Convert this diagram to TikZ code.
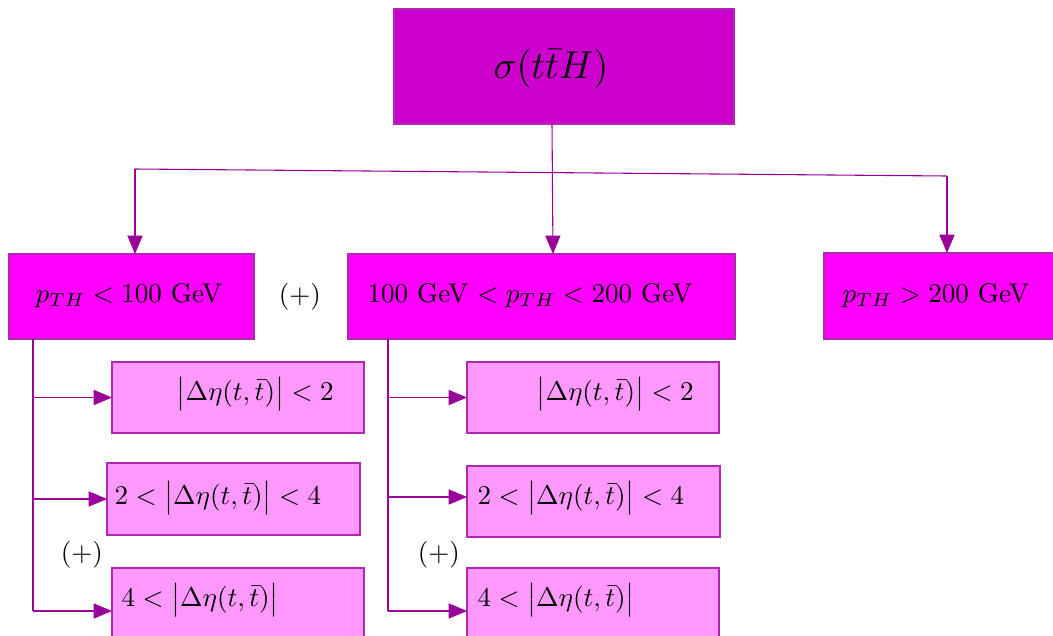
\documentclass[tikz,border=0pt]{standalone}
\usetikzlibrary{arrows.meta}
\definecolor{topfill}{RGB}{204,0,204}
\definecolor{midfill}{RGB}{255,0,255}
\definecolor{lowfill}{RGB}{255,153,255}
\definecolor{linec}{RGB}{153,0,153}
\definecolor{borderc}{RGB}{175,40,175}
\tikzset{
  box/.style={draw=borderc, line width=0.4pt, inner sep=0pt, outer sep=0pt},
  conn/.style={draw=linec, line width=0.4pt},
  arr/.style={conn, -{Triangle[length=6.8pt,width=5.6pt]}},
  lbl/.style={inner sep=0pt, anchor=west},
}
\newcommand{\deta}{\bigl|\Delta\eta(t,\bar{t})\bigr|}
\begin{document}
\begin{tikzpicture}[x=0.37pt,y=-0.37pt]
\useasboundingbox (0,0) rectangle (1053,635);
\clip (0,0) rectangle (1053,635);
% boxes
\node[box, fill=topfill, minimum width=340*0.37pt, minimum height=115*0.37pt] (top) at (564,66.5) {};
\node[box, fill=midfill, minimum width=245*0.37pt, minimum height=85*0.37pt] (A) at (131.5,296.5) {};
\node[box, fill=midfill, minimum width=387*0.37pt, minimum height=85*0.37pt] (B) at (541.5,296.5) {};
\node[box, fill=midfill, minimum width=260*0.37pt, minimum height=86*0.37pt] (C) at (954,296) {};
\node[box, fill=lowfill, minimum width=252*0.37pt, minimum height=71*0.37pt] (L1) at (238,397.5) {};
\node[box, fill=lowfill, minimum width=253*0.37pt, minimum height=72*0.37pt] (L2) at (233.5,499) {};
\node[box, fill=lowfill, minimum width=252*0.37pt, minimum height=90*0.37pt] (L3) at (238,613) {};
\node[box, fill=lowfill, minimum width=252*0.37pt, minimum height=71*0.37pt] (R1) at (593,397.5) {};
\node[box, fill=lowfill, minimum width=253*0.37pt, minimum height=71*0.37pt] (R2) at (593.5,501.5) {};
\node[box, fill=lowfill, minimum width=252*0.37pt, minimum height=90*0.37pt] (R3) at (593,613) {};
% texts
\node[inner sep=0pt] (ttop) at (551,69) {\Large $\sigma(t\bar{t}H)$};
\node[lbl] (tA) at (35,296) {$p_{TH} < 100$ GeV};
\node[lbl] (tB) at (367,296) {100 GeV $< p_{TH} < 200$ GeV};
\node[lbl] (tC) at (842,296) {$p_{TH} > 200$ GeV};
\node[lbl] (tL1) at (176,394) {$\deta < 2$};
\node[lbl] (tL2) at (114,498) {$2 < \deta < 4$};
\node[lbl] (tL3) at (121,600) {$4 < \deta$};
\node[lbl] (tR1) at (536,394) {$\deta < 2$};
\node[lbl] (tR2) at (477,498) {$2 < \deta < 4$};
\node[lbl] (tR3) at (477,600) {$4 < \deta$};
\node[inner sep=0pt] (p1) at (300,297) {$(+)$};
\node[inner sep=0pt] (p2) at (82,555) {$(+)$};
\node[inner sep=0pt] (p3) at (439,555) {$(+)$};
% connectors from top
\coordinate (jl) at (135,169);
\coordinate (jr) at (947,176);
\draw[conn] (jl) -- (jr);
\draw[arr] (top.south -| 552,0) -- (B.north -| 553,0);
\draw[arr] (jl) -- (jl |- A.north);
\draw[arr] (jr) -- (jr |- C.north);
% left column
\coordinate (al) at (33,611);
\draw[conn] (A.south -| al) -- (al);
\draw[arr] (al |- L1.west) -- (L1.west);
\draw[arr] (al |- L2.west) -- (L2.west);
\draw[arr] (al) -- (al -| L3.west);
% right column
\coordinate (bl) at (388,611);
\draw[conn] (B.south -| bl) -- (bl);
\draw[arr] (bl |- R1.west) -- (R1.west);
\draw[arr] (bl |- 0,497) -- (R2.west |- 0,497);
\draw[arr] (bl) -- (bl -| R3.west);
\end{tikzpicture}
\end{document}
